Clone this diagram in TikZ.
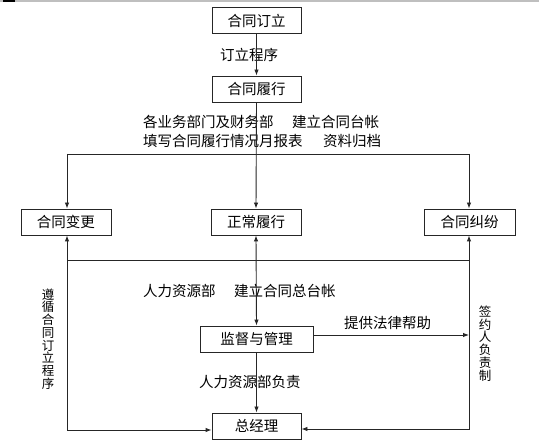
\documentclass[tikz,border=0pt]{standalone}
\usepackage{fontspec}
\setmainfont{Noto Sans CJK SC}
\usetikzlibrary{arrows.meta}
\begin{document}
\begin{tikzpicture}[x=1pt,y=-1pt,
  box/.style={draw=black!85,line width=0.9pt,minimum height=26pt,inner sep=0pt,font=\fontsize{14.5}{16}\selectfont},
  lbl/.style={inner sep=0pt,anchor=west,font=\fontsize{14.5}{16}\selectfont},
  vlbl/.style={inner sep=0pt,align=center,font=\fontsize{12.5}{12.75}\selectfont},
  conn/.style={draw=black!85,line width=0.9pt},
  arr/.style={conn,-{Latex[length=6pt,width=4.5pt]}}]
\useasboundingbox (0,0) rectangle (539,443);
\fill[white] (0,0) rectangle (539,443);
% top border
\draw[black!25,line width=1.5pt] (0,1) -- (539,1);
\draw[black,line width=1.5pt] (3,1) -- (15,1);
% boxes
\node[box,minimum width=89pt] (qd) at (256.5,20.5) {合同订立};
\node[box,minimum width=89pt] (lx) at (256.5,89) {合同履行};
\node[box,minimum width=90pt] (bg) at (66,222) {合同变更};
\node[box,minimum width=90pt] (zc) at (256,222) {正常履行};
\node[box,minimum width=91pt] (jf) at (469.5,222) {合同纠纷};
\node[box,minimum width=113pt] (jd) at (256.5,339) {监督与管理};
\node[box,minimum width=89pt] (zj) at (256.5,426) {总经理};
% labels
\node[lbl] (t1) at (220,55) {订立程序};
\node[lbl] (t2) at (143,122) {各业务部门及财务部};
\node[lbl] (t3) at (292,122) {建立合同台帐};
\node[lbl] (t4) at (143,141) {填写合同履行情况月报表};
\node[lbl] (t5) at (323,141) {资料归档};
\node[lbl] (t6) at (143,291) {人力资源部};
\node[lbl] (t7) at (234,291) {建立合同总台帐};
\node[lbl] (t8) at (344,323) {提供法律帮助};
\node[lbl] (t9) at (199,382) {人力资源部负责};
\node[vlbl] (v1) at (48,339) {遵\\循\\合\\同\\订\\立\\程\\序};
\node[vlbl] (v2) at (485,343.5) {签\\约\\人\\负\\责\\制};
% coordinates
\coordinate (tl) at (67,154);
\coordinate (tr) at (469,154);
\coordinate (hl) at (67,260);
\coordinate (hr) at (469,260);
\coordinate (rp) at (469,335);
% connectors
\draw[arr] (qd.south) -- (lx.north);
\draw[arr] (lx.south) -- (zc.north);
\draw[conn] (tl) -- (tr);
\draw[arr] (tl) -- (bg.north -| tl);
\draw[arr] (tr) -- (jf.north -| tr);
\draw[conn] (hl) -- (hr);
\draw[arr] (hl) -- (bg.south -| hl);
\draw[arr] (hr) -- (jf.south -| hr);
\draw[arr,{Latex[length=6pt,width=4.5pt]}-{Latex[length=6pt,width=4.5pt]}] (zc.south) -- (jd.north);
\draw[arr] (jd.east |- rp) -- (rp);
\draw[arr] (jd.south) -- (zj.north);
\draw[arr] (hl) |- ([yshift=-4pt]zj.west);
\draw[arr] (hr) |- ([yshift=-3pt]zj.east);
\end{tikzpicture}
\end{document}
